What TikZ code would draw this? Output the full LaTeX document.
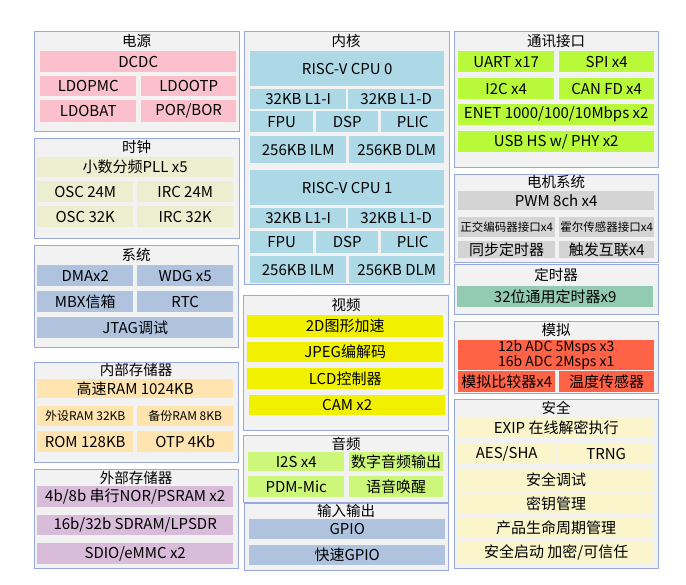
\documentclass[tikz,border=0pt]{standalone}
\usepackage{fontspec}
\setmainfont{Noto Sans CJK SC}

\definecolor{panelbg}{HTML}{F2F2F2}
\definecolor{panelline}{HTML}{9AA8E0}
\definecolor{pwrpink}{HTML}{FBC0CB}
\definecolor{clkcream}{HTML}{EDEDCF}
\definecolor{sysblue}{HTML}{AFC3DE}
\definecolor{imemtan}{HTML}{FFE4B0}
\definecolor{ememlilac}{HTML}{D9BCDA}
\definecolor{coreblue}{HTML}{ADD8E6}
\definecolor{videoyel}{HTML}{F0F000}
\definecolor{audiogrn}{HTML}{CCF77A}
\definecolor{commgrn}{HTML}{B8FA3A}
\definecolor{motorgray}{HTML}{D4D4D4}
\definecolor{timergrn}{HTML}{92CBB2}
\definecolor{analogred}{HTML}{FF6347}
\definecolor{seccream}{HTML}{FAF5CB}

\tikzset{
  panel/.style={draw=panelline, fill=panelbg, line width=0.8pt, anchor=north west, inner sep=0pt},
  ttl/.style={inner sep=0pt, font=\fontsize{14.5}{14.5}\selectfont},
  box/.style={anchor=north west, inner sep=0pt, align=center, font=\fontsize{15}{15}\selectfont},
  sz/.style 2 args={minimum width=#1pt, minimum height=#2pt},
  small/.style={font=\fontsize{12}{12}\selectfont},
  pwr/.style={box, fill=pwrpink},
  clk/.style={box, fill=clkcream},
  sys/.style={box, fill=sysblue},
  imem/.style={box, fill=imemtan},
  emem/.style={box, fill=ememlilac},
  core/.style={box, fill=coreblue},
  video/.style={box, fill=videoyel},
  audio/.style={box, fill=audiogrn},
  comm/.style={box, fill=commgrn},
  motor/.style={box, fill=motorgray},
  timer/.style={box, fill=timergrn},
  analog/.style={box, fill=analogred},
  sec/.style={box, fill=seccream}
}

\begin{document}
\begin{tikzpicture}[x=1pt, y=-1pt]

    \fill[white] (0,0) rectangle (686,585);
    \useasboundingbox (0,0) rectangle (686,585);

    % left column
    \node[panel, sz={205}{100}] (power) at (34,31) {};
    \node[ttl] (powert) at (136.5,41) {电源};
    \node[pwr, sz={196}{21}] (dcdc) at (40,51) {DCDC};
    \node[pwr, sz={96}{20}] (ldopmc) at (40,76) {LDOPMC};
    \node[pwr, sz={95}{20}] (ldootp) at (141,76) {LDOOTP};
    \node[pwr, sz={96}{22}] (ldobat) at (40,100) {LDOBAT};
    \node[pwr, sz={95}{22}] (porbor) at (141,100) {POR/BOR};

    \node[panel, sz={205}{100}] (clock) at (34,138) {};
    \node[ttl] (clockt) at (136.5,147) {时钟};
    \node[clk, sz={196}{20}] (pll) at (37,157) {小数分频PLL x5};
    \node[clk, sz={96}{21}] (osc24) at (37,181) {OSC 24M};
    \node[clk, sz={96}{21}] (irc24) at (137,181) {IRC 24M};
    \node[clk, sz={96}{21}] (osc32) at (37,206) {OSC 32K};
    \node[clk, sz={96}{21}] (irc32) at (137,206) {IRC 32K};

    \node[panel, sz={204}{102}] (system) at (34,245) {};
    \node[ttl] (systemt) at (136,255) {系统};
    \node[sys, sz={96}{21}] (dma) at (37,265) {DMAx2};
    \node[sys, sz={96}{21}] (wdg) at (137,265) {WDG x5};
    \node[sys, sz={96}{21}] (mbx) at (37,291) {MBX信箱};
    \node[sys, sz={96}{21}] (rtc) at (137,291) {RTC};
    \node[sys, sz={196}{21}] (jtag) at (37,317) {JTAG调试};

    \node[panel, sz={204}{100}] (intmem) at (34,362) {};
    \node[ttl] (intmemt) at (136,370) {内部存储器};
    \node[imem, sz={196}{19}] (hsram) at (37,379) {高速RAM 1024KB};
    \node[imem, small, sz={96}{20}] (pram) at (37,406) {外设RAM 32KB};
    \node[imem, small, sz={96}{20}] (bram) at (137,406) {备份RAM 8KB};
    \node[imem, sz={96}{21}] (rom) at (37,431) {ROM 128KB};
    \node[imem, sz={96}{21}] (otp) at (137,431) {OTP 4Kb};

    \node[panel, sz={204}{99}] (extmem) at (34,469) {};
    \node[ttl] (extmemt) at (136,478) {外部存储器};
    \node[emem, sz={196}{21}] (nor) at (37,486) {4b/8b 串行NOR/PSRAM x2};
    \node[emem, sz={196}{20}] (sdram) at (37,515) {16b/32b SDRAM/LPSDR};
    \node[emem, sz={196}{21}] (sdio) at (37,543) {SDIO/eMMC x2};

    % middle column
    \node[panel, sz={205}{253}] (cores) at (244,31) {};
    \node[ttl] (corest) at (346,41) {内核};
    \node[core, sz={194}{35}] (cpu0) at (250,51) {RISC-V CPU 0};
    \node[core, sz={96}{20}] (li0) at (250,89) {32KB L1-I};
    \node[core, sz={96}{20}] (ld0) at (348,89) {32KB L1-D};
    \node[core, sz={63}{21}] (fpu0) at (250,111) {FPU};
    \node[core, sz={62}{21}] (dsp0) at (316,111) {DSP};
    \node[core, sz={63}{21}] (plic0) at (381,111) {PLIC};
    \node[core, sz={96}{27}] (ilm0) at (250,136) {256KB ILM};
    \node[core, sz={95}{27}] (dlm0) at (349,136) {256KB DLM};
    \node[core, sz={194}{35}] (cpu1) at (250,170) {RISC-V CPU 1};
    \node[core, sz={96}{20}] (li1) at (250,208) {32KB L1-I};
    \node[core, sz={96}{20}] (ld1) at (348,208) {32KB L1-D};
    \node[core, sz={63}{22}] (fpu1) at (250,231) {FPU};
    \node[core, sz={62}{22}] (dsp1) at (316,231) {DSP};
    \node[core, sz={63}{22}] (plic1) at (381,231) {PLIC};
    \node[core, sz={96}{27}] (ilm1) at (250,256) {256KB ILM};
    \node[core, sz={95}{27}] (dlm1) at (349,256) {256KB DLM};

    \node[panel, sz={205}{135}] (vid) at (243,295) {};
    \node[ttl] (vidt) at (346,305) {视频};
    \node[video, sz={196}{22}] (gfx) at (247,315) {2D图形加速};
    \node[video, sz={196}{20}] (jpeg) at (247,342) {JPEG编解码};
    \node[video, sz={196}{21}] (lcd) at (247,368) {LCD控制器};
    \node[video, sz={196}{20}] (cam) at (249,395) {CAM x2};

    \node[panel, sz={205}{67}] (aud) at (243,435) {};
    \node[ttl] (audt) at (346,444) {音频};
    \node[audio, sz={96}{19}] (i2s) at (248,452) {I2S x4};
    \node[audio, sz={94}{19}] (dout) at (349,452) {数字音频输出};
    \node[audio, sz={96}{21}] (pdm) at (248,476) {PDM-Mic};
    \node[audio, sz={94}{21}] (wake) at (349,476) {语音唤醒};

    \node[panel, sz={204}{67}] (gpio) at (244,503) {};
    \node[ttl] (gpiot) at (346,511) {输入输出};
    \node[sys, sz={196}{20}] (gpio1) at (249,519) {GPIO};
    \node[sys, sz={196}{20}] (fgpio) at (249,545) {快速GPIO};

    % right column
    \node[panel, sz={204}{136}] (comms) at (454,31) {};
    \node[ttl] (commst) at (556,41) {通讯接口};
    \node[comm, sz={96}{21}] (uart) at (458,51) {UART x17};
    \node[comm, sz={95}{21}] (spi) at (559,51) {SPI x4};
    \node[comm, sz={96}{21}] (i2c) at (458,78) {I2C x4};
    \node[comm, sz={95}{21}] (can) at (559,78) {CAN FD x4};
    \node[comm, sz={196}{21}] (enet) at (458,104) {ENET 1000/100/10Mbps x2};
    \node[comm, sz={196}{21}] (usb) at (458,131) {USB HS w/ PHY x2};

    \node[panel, sz={204}{88}] (motors) at (454,174) {};
    \node[ttl] (motorst) at (556,182) {电机系统};
    \node[motor, sz={196}{19}] (pwm) at (458,191) {PWM 8ch x4};
    \node[motor, font=\fontsize{11.5}{11.5}\selectfont, sz={97}{20}] (qei) at (458,217) {正交编码器接口x4};
    \node[motor, font=\fontsize{11.5}{11.5}\selectfont, sz={95}{20}] (hall) at (559,217) {霍尔传感器接口x4};
    \node[motor, sz={97}{17}] (sync) at (458,241) {同步定时器};
    \node[motor, sz={95}{17}] (trig) at (559,241) {触发互联x4};

    \node[panel, sz={204}{50}] (timers) at (454,264) {};
    \node[ttl] (timerst) at (556,275) {定时器};
    \node[timer, sz={196}{21}] (gpt) at (457,286) {32位通用定时器x9};

    \node[panel, sz={204}{72}] (analogs) at (454,321) {};
    \node[ttl] (analogst) at (556,330) {模拟};
    \node[analog, sz={196}{27}, font=\fontsize{14}{12.5}\selectfont] (adc) at (458,340) {12b ADC 5Msps x3\\16b ADC 2Msps x1};
    \node[analog, sz={97}{21}] (acmp) at (458,371) {模拟比较器x4};
    \node[analog, sz={95}{21}] (tsns) at (559,371) {温度传感器};

    \node[panel, sz={204}{169}] (secure) at (454,399) {};
    \node[ttl] (securet) at (556,408) {安全};
    \node[sec, sz={196}{21}] (exip) at (458,417) {EXIP 在线解密执行};
    \node[sec, sz={97}{21}] (aes) at (458,443) {AES/SHA};
    \node[sec, sz={96}{21}] (trng) at (558,443) {TRNG};
    \node[sec, sz={196}{22}] (sdbg) at (458,469) {安全调试};
    \node[sec, sz={196}{20}] (keys) at (458,494) {密钥管理};
    \node[sec, sz={196}{20}] (life) at (458,518) {产品生命周期管理};
    \node[sec, sz={196}{21}] (boot) at (458,542) {安全启动 加密/可信任};

\end{tikzpicture}
\end{document}
